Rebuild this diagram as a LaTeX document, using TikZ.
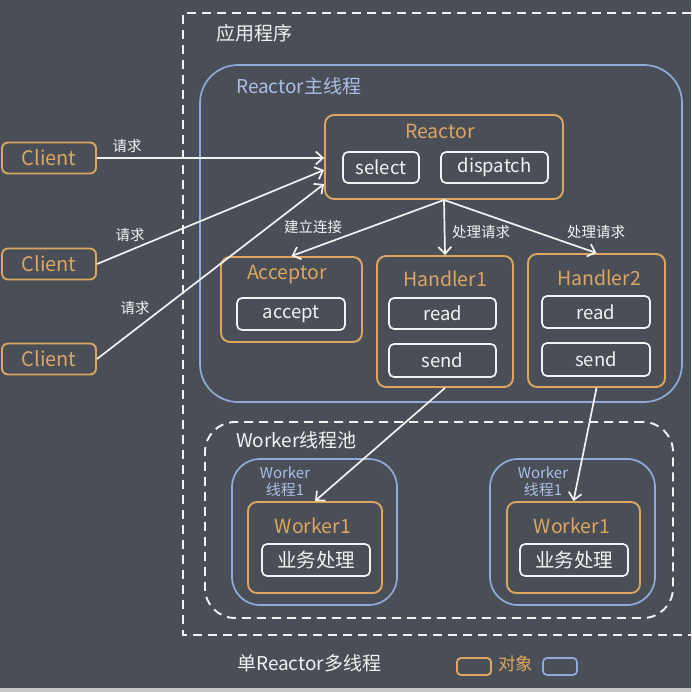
\documentclass[tikz,border=0pt]{standalone}
\usepackage{fontspec}
\setmainfont{Noto Sans CJK SC}
\usepackage{tikz}
\usetikzlibrary{calc, positioning, arrows.meta}
\definecolor{bgcol}{HTML}{4A4E57}
\definecolor{objorange}{HTML}{DDA660}
\definecolor{thrblue}{HTML}{90AADA}
\definecolor{lblblue}{HTML}{A9BEE8}
\definecolor{linewhite}{HTML}{F2F2F2}
\tikzstyle{obj}=[draw=objorange, line width=1.9pt, rounded corners=9pt, shape=rectangle, inner sep=0pt]
\tikzstyle{thr}=[draw=thrblue, line width=1.7pt, shape=rectangle, inner sep=0pt]
\tikzstyle{op}=[draw=linewhite, line width=1.7pt, rounded corners=5pt, shape=rectangle, inner sep=0pt, text=linewhite, font=\fontsize{18.5}{18.5}\selectfont]
\tikzstyle{ttl}=[text=objorange, inner sep=0pt, font=\fontsize{19.5}{19.5}\selectfont]
\tikzstyle{req}=[text=linewhite, inner sep=0pt, font=\fontsize{14.5}{14.5}\selectfont]
\tikzstyle{arr}=[->, draw=linewhite, line width=1.7pt]
\tikzstyle{frame}=[draw=linewhite, line width=1.9pt, dash pattern=on 9pt off 6pt]
\tikzset{>={Straight Barb[length=7pt,width=13pt]}}

\begin{document}
\begin{tikzpicture}[x=1pt, y=-1pt]
\useasboundingbox[fill=bgcol] (0,0) rectangle (691,692);
\fill[gray!45] (0,688) rectangle (691,692);
% the application frame
\draw[frame] (691,13) -- (183,13) -- (183,635) -- (691,635);
\node[text=linewhite, anchor=west, inner sep=0pt, font=\fontsize{19}{19}\selectfont] (app) at (216,33) {应用程序};
% the reactor main thread
\node[thr, rounded corners=38pt, minimum width=482pt, minimum height=337pt] (main) at (441,233.5) {};
\node[text=lblblue, anchor=west, inner sep=0pt, font=\fontsize{19}{19}\selectfont] (mainlbl) at (236,86) {Reactor主线程};
% the clients
\node[obj, rounded corners=6pt, minimum width=94pt, minimum height=31pt, text=objorange, font=\fontsize{20}{20}\selectfont] (client1) at (49,158) {Client};
\node[obj, rounded corners=6pt, minimum width=94pt, minimum height=31pt, text=objorange, font=\fontsize{20}{20}\selectfont] (client2) at (49,264) {Client};
\node[obj, rounded corners=6pt, minimum width=94pt, minimum height=31pt, text=objorange, font=\fontsize{20}{20}\selectfont] (client3) at (49,359) {Client};
% the reactor
\node[obj, minimum width=238pt, minimum height=84pt] (reactor) at (444,157) {};
\node[ttl] (reactorttl) at (440,131) {Reactor};
\node[op, minimum width=76pt, minimum height=31pt] (select) at (381,167.5) {select};
\node[op, minimum width=107pt, minimum height=31pt] (dispatch) at (494.5,167.5) {dispatch};
% the acceptor and the handlers
\node[obj, minimum width=141pt, minimum height=85pt] (acceptor) at (291.5,299.5) {};
\node[ttl] (acceptorttl) at (287,275) {Acceptor};
\node[op, minimum width=108pt, minimum height=32pt] (accept) at (291,314) {accept};
\node[obj, minimum width=136pt, minimum height=131pt] (handler1) at (445,321.5) {};
\node[ttl] (handler1ttl) at (445,279) {Handler1};
\node[op, minimum width=107pt, minimum height=31pt] (read1) at (442.5,313.5) {read};
\node[op, minimum width=107pt, minimum height=33pt] (send1) at (442.5,360.5) {send};
\node[obj, minimum width=137pt, minimum height=133pt] (handler2) at (596.5,320.5) {};
\node[ttl] (handler2ttl) at (599,278) {Handler2};
\node[op, minimum width=108pt, minimum height=32pt] (read2) at (596,312) {read};
\node[op, minimum width=108pt, minimum height=33pt] (send2) at (596,359.5) {send};
% the worker pool
\node[frame, rounded corners=30pt, minimum width=468pt, minimum height=196pt, inner sep=0pt] (pool) at (439,520) {};
\node[text=linewhite, anchor=west, inner sep=0pt, font=\fontsize{19}{19}\selectfont] (poollbl) at (236,440) {Worker线程池};
\node[thr, rounded corners=28pt, minimum width=165pt, minimum height=146pt] (wthread1) at (314.5,532) {};
\node[text=lblblue, align=center, inner sep=0pt, font=\fontsize{15}{17}\selectfont] (wthread1lbl) at (285,481.5) {Worker\\线程1};
\node[obj, minimum width=134pt, minimum height=91pt] (worker1a) at (315,547.5) {};
\node[ttl] (worker1attl) at (313,526) {Worker1};
\node[op, minimum width=108pt, minimum height=32pt, font=\fontsize{19.5}{19.5}\selectfont] (biz1) at (316,560) {业务处理};
\node[thr, rounded corners=28pt, minimum width=165pt, minimum height=146pt] (wthread2) at (572.5,532) {};
\node[text=lblblue, align=center, inner sep=0pt, font=\fontsize{15}{17}\selectfont] (wthread2lbl) at (543,481.5) {Worker\\线程1};
\node[obj, minimum width=133pt, minimum height=91pt] (worker1b) at (573.5,547.5) {};
\node[ttl] (worker1bttl) at (572,526) {Worker1};
\node[op, minimum width=108pt, minimum height=32pt, font=\fontsize{19.5}{19.5}\selectfont] (biz2) at (574,560) {业务处理};
% the requests
\draw[arr] (client1.east) -- (client1.east -| reactor.west);
\draw[arr] (client2.east) -- ([yshift=-13pt]reactor.west);
\draw[arr] (client3.east) -- ([yshift=-27pt]reactor.west);
\node[req] (req1) at (127,146) {请求};
\node[req] (req2) at (130,235) {请求};
\node[req] (req3) at (135,308) {请求};
% the dispatch
\draw[arr] (reactor.south) -- (acceptor.north);
\draw[arr] (reactor.south) -- (handler1.north);
\draw[arr] (reactor.south) -- (handler2.north);
\node[req] (conn) at (313,227) {建立连接};
\node[req] (proc1) at (481,232) {处理请求};
\node[req] (proc2) at (596,232) {处理请求};
\draw[arr] (handler1.south) -- (worker1a.north);
\draw[arr] (handler2.south) -- (worker1b.north);
% the legend
\node[text=linewhite, anchor=west, inner sep=0pt, font=\fontsize{19}{19}\selectfont] (title) at (237,663) {单Reactor多线程};
\node[obj, rounded corners=4pt, minimum width=34pt, minimum height=17pt] (legobj) at (474,666.5) {};
\node[text=objorange, anchor=west, inner sep=0pt, font=\fontsize{17.5}{17.5}\selectfont] (legobjlbl) at (498,664) {对象};
\node[thr, rounded corners=4pt, minimum width=34pt, minimum height=17pt] (legthr) at (560,666.5) {};
\end{tikzpicture}
\end{document}
